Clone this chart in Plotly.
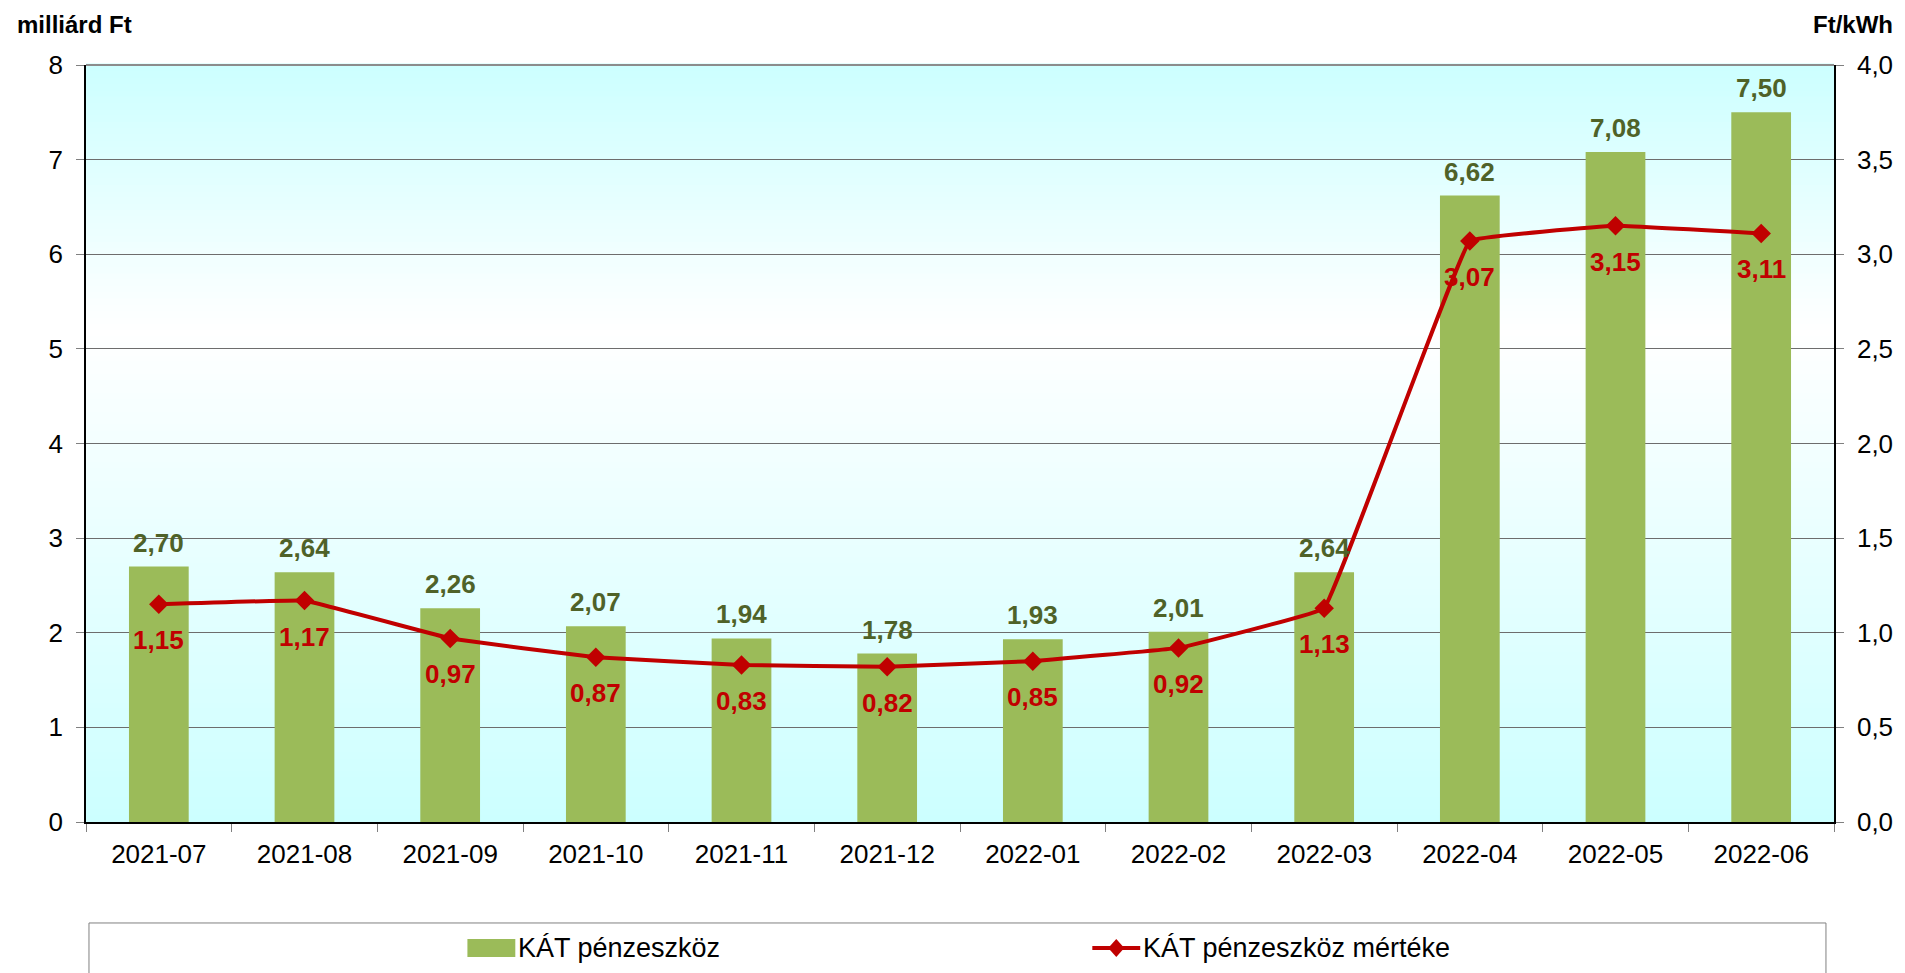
import plotly.graph_objects as go

months = ["2021-07", "2021-08", "2021-09", "2021-10", "2021-11", "2021-12",
          "2022-01", "2022-02", "2022-03", "2022-04", "2022-05", "2022-06"]
kat_funds = [2.70, 2.64, 2.26, 2.07, 1.94, 1.78, 1.93, 2.01, 2.64, 6.62, 7.08, 7.50]
kat_rate = [1.15, 1.17, 0.97, 0.87, 0.83, 0.82, 0.85, 0.92, 1.13, 3.07, 3.15, 3.11]
series_names = ["KÁT pénzeszköz", "KÁT pénzeszköz mértéke"]

FONT = "Liberation Sans"
BAR_COLOR = "#9bbb59"
LINE_COLOR = "#c00000"
BAR_LABEL_COLOR = "#4f6228"


def fmt(v):
    return f"{v:.2f}".replace(".", ",")


fig = go.Figure()
fig.add_trace(go.Bar(
    x=months, y=kat_funds, name=series_names[0],
    marker=dict(color=BAR_COLOR, line=dict(width=0)),
    yaxis="y", hoverinfo="skip", showlegend=False,
))
fig.add_trace(go.Scatter(
    x=months, y=kat_rate, name=series_names[1],
    mode="lines+markers",
    line=dict(color=LINE_COLOR, width=4, shape="spline", smoothing=0.15),
    marker=dict(symbol="diamond", size=15, color=LINE_COLOR),
    yaxis="y2", hoverinfo="skip", showlegend=False,
))

annotations = []
for m, v in zip(months, kat_funds):
    annotations.append(dict(x=m, y=v, xref="x", yref="y", text=fmt(v), showarrow=False,
                            yshift=24, font=dict(family=FONT, size=26, color=BAR_LABEL_COLOR, weight="bold")))
for m, v in zip(months, kat_rate):
    annotations.append(dict(x=m, y=v, xref="x", yref="y2", text=fmt(v), showarrow=False,
                            yshift=-36, font=dict(family=FONT, size=26, color=LINE_COLOR, weight="bold")))

annotations.append(dict(x=-0.0405, y=1.053, xref="paper", yref="paper", text="<b>milliárd Ft</b>",
                        showarrow=False, xanchor="left", yanchor="middle",
                        font=dict(family=FONT, size=24, color="black")))
annotations.append(dict(x=1.035, y=1.053, xref="paper", yref="paper", text="<b>Ft/kWh</b>",
                        showarrow=False, xanchor="right", yanchor="middle",
                        font=dict(family=FONT, size=24, color="black")))

# background gradient (cyan top -> white -> cyan bottom)
shapes = []
n = 120
white_pos = 0.65
c0 = (204, 255, 255)
for i in range(n):
    y0 = i / n
    y1 = (i + 1) / n
    yc = (y0 + y1) / 2
    if yc < white_pos:
        t = yc / white_pos
    else:
        t = (1 - yc) / (1 - white_pos)
    t = max(0.0, min(1.0, t))
    col = tuple(round(c + (255 - c) * t) for c in c0)
    shapes.append(dict(type="rect", xref="paper", yref="paper", x0=0, x1=1, y0=y0, y1=y1 + 0.002,
                       fillcolor=f"rgb{col}", line=dict(width=0), layer="below"))
# top border
shapes.append(dict(type="line", xref="paper", yref="paper", x0=0, x1=1, y0=1, y1=1,
                   line=dict(color="#8c8c8c", width=2)))

# legend (drawn manually: box, symbols, texts)
LEG_Y = -0.1665
shapes.append(dict(type="rect", xref="paper", yref="paper", x0=0.0017, x1=0.9954, y0=-0.26, y1=-0.1334,
                   line=dict(color="#808080", width=1), fillcolor="white"))
shapes.append(dict(type="rect", xref="paper", yref="paper", x0=0.2182, x1=0.2456, y0=-0.1546, y1=-0.1783,
                   line=dict(width=0), fillcolor=BAR_COLOR))
shapes.append(dict(type="line", xref="paper", yref="paper", x0=0.5757, x1=0.6031, y0=LEG_Y, y1=LEG_Y,
                   line=dict(color=LINE_COLOR, width=4)))
dx, dy, cx = 0.0046, 0.0119, 0.5894
shapes.append(dict(type="path", xref="paper", yref="paper",
                   path=f"M {cx - dx} {LEG_Y} L {cx} {LEG_Y + dy} L {cx + dx} {LEG_Y} L {cx} {LEG_Y - dy} Z",
                   line=dict(width=0), fillcolor=LINE_COLOR))
annotations.append(dict(x=0.2462, y=LEG_Y, xref="paper", yref="paper", text=series_names[0],
                        showarrow=False, xanchor="left", yanchor="middle",
                        font=dict(family=FONT, size=27, color="black")))
annotations.append(dict(x=0.6037, y=LEG_Y, xref="paper", yref="paper", text=series_names[1],
                        showarrow=False, xanchor="left", yanchor="middle",
                        font=dict(family=FONT, size=27, color="black")))

fig.update_layout(
    width=1897, height=965,
    margin=dict(l=78, r=68, t=57, b=151),
    paper_bgcolor="white",
    plot_bgcolor="rgba(0,0,0,0)",
    font=dict(family=FONT, size=26, color="black"),
    separators=", ",
    bargap=0.59,
    showlegend=False,
    xaxis=dict(type="category", range=[-0.5, len(months) - 0.5], showgrid=False, showline=True,
               linecolor="black", linewidth=1.5,
               ticks="outside", tickson="boundaries", ticklen=8, tickcolor="#808080",
               tickfont=dict(size=26), ticklabelstandoff=8, zeroline=False),
    yaxis=dict(range=[0, 8], dtick=1, showgrid=True, gridcolor="#6d6d6d", gridwidth=1,
               showline=True, linecolor="black", linewidth=1.5, ticks="outside", ticklen=8,
               tickcolor="#808080", tickfont=dict(size=26), ticklabelstandoff=8, zeroline=False),
    yaxis2=dict(range=[0, 4], dtick=0.5, tickformat=".1f", overlaying="y", side="right",
                showgrid=False, showline=True, linecolor="black", linewidth=1.5,
                ticks="outside", ticklen=8, tickcolor="#808080", tickfont=dict(size=26),
                ticklabelstandoff=8, zeroline=False),
    annotations=annotations,
    shapes=shapes,
)

fig.write_html("out.html")
